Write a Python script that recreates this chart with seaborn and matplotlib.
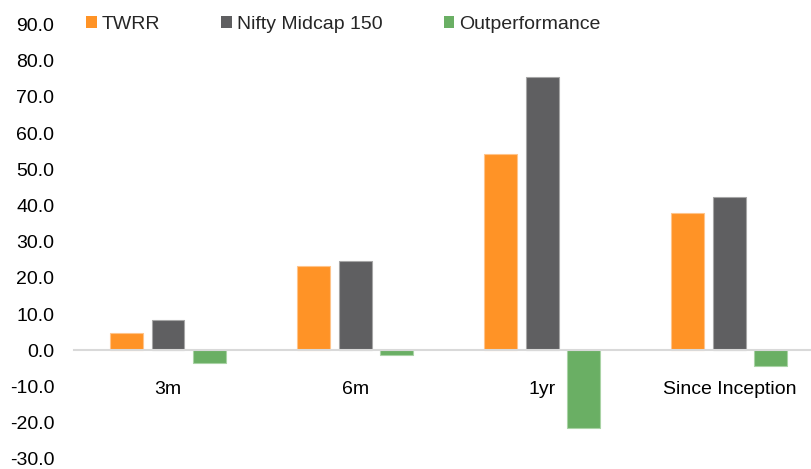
import matplotlib
matplotlib.use("Agg")
import matplotlib.pyplot as plt
import seaborn as sns
import pandas as pd
from matplotlib.patches import Patch

# Return periods and series (%)
periods = ["3m", "6m", "1yr", "Since Inception"]
series_names = ["TWRR", "Nifty Midcap 150", "Outperformance"]
twrr = [4.7, 23.2, 54.1, 37.9]
nifty_midcap = [8.3, 24.6, 75.6, 42.3]
outperformance = [-3.6, -1.4, -21.5, -4.4]
y_ticks = [-30, -20, -10, 0, 10, 20, 30, 40, 50, 60, 70, 80, 90]

colors = ["#FF9326", "#5F5F61", "#6AAF64"]
edge_colors = ["#FFC48A", "#A6A6A6", "#A9D3A5"]

df = pd.DataFrame({
    "Period": periods * 3,
    "Series": [series_names[0]] * 4 + [series_names[1]] * 4 + [series_names[2]] * 4,
    "Value": twrr + nifty_midcap + outperformance,
})

sns.set_theme(style="white")
plt.rcParams["font.family"] = ["Liberation Sans", "DejaVu Sans"]

fig = plt.figure(figsize=(8.12, 4.69), dpi=100)
ax = fig.add_axes([74.4 / 812, 10.1 / 469, (812 - 74.4) / 812, (458.9 - 24.5) / 469])

sns.barplot(data=df, x="Period", y="Value", hue="Series", order=periods,
            hue_order=series_names, palette=colors, width=0.666, gap=0.207,
            saturation=1, linewidth=0, ax=ax, legend=False)

for container, ec in zip(ax.containers, edge_colors):
    for patch in container:
        patch.set_edgecolor(ec)
        patch.set_linewidth(0.8)

ax.set_xlim(-0.5, 3.5 - 11 / 187.2)
ax.set_ylim(-30, 90)
ax.set_yticks(y_ticks)
ax.set_yticklabels([f"{v:.1f}" for v in y_ticks])
ax.set_xlabel("")
ax.set_ylabel("")

for side in ["top", "right", "left"]:
    ax.spines[side].set_visible(False)
ax.spines["bottom"].set_position(("data", 0))
ax.spines["bottom"].set_color("#D9D9D9")
ax.spines["bottom"].set_linewidth(1.5)
ax.spines["bottom"].set_zorder(5)

ax.tick_params(axis="y", length=0, pad=14.5, labelsize=14, labelcolor="#000000")
ax.tick_params(axis="x", length=0, pad=22, labelsize=14, labelcolor="#000000")
ax.grid(False)

handles = [Patch(facecolor=c, edgecolor="none") for c in colors]
fig.legend(handles, series_names, loc="upper left", bbox_to_anchor=(86 / 812, 1 - 16 / 469),
           ncol=3, frameon=False, fontsize=14, handlelength=0.55, handleheight=0.55,
           handletextpad=0.25, columnspacing=3.15, borderpad=0, borderaxespad=0)

fig.savefig("out.png", dpi=100, facecolor="white")
